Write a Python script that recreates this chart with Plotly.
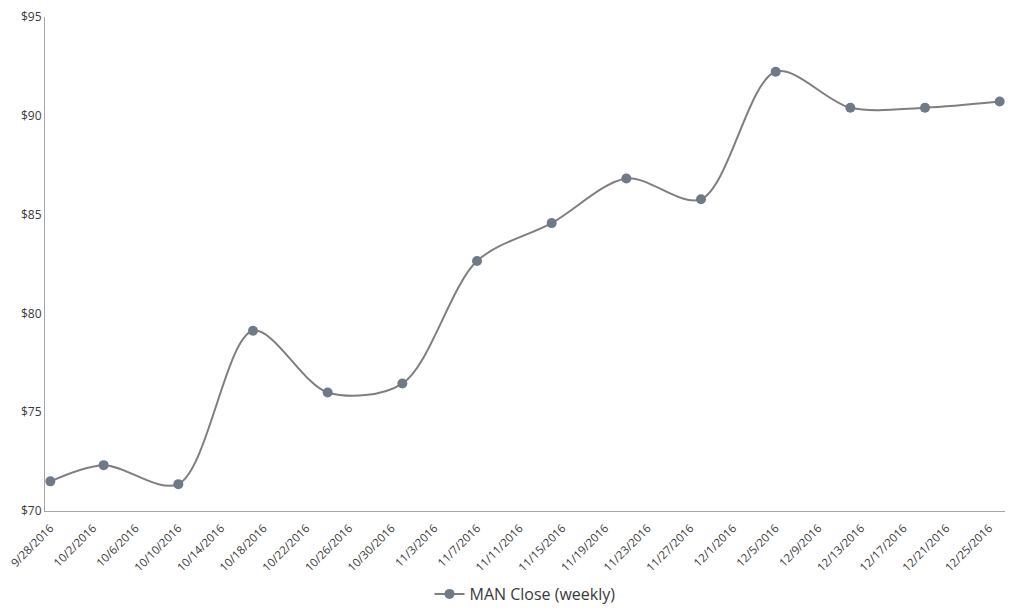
import plotly.graph_objects as go
import pandas as pd

dates = ["2016-09-28", "2016-10-03", "2016-10-10", "2016-10-17", "2016-10-24", "2016-10-31",
         "2016-11-07", "2016-11-14", "2016-11-21", "2016-11-28", "2016-12-05", "2016-12-12",
         "2016-12-19", "2016-12-26"]
close = [71.5, 72.32, 71.36, 79.12, 76.0, 76.45, 82.65, 84.57, 86.83, 85.78, 92.23, 90.41, 90.41, 90.72]
series_name = "MAN Close (weekly)"

tick_dates = pd.date_range("2016-09-28", "2016-12-25", freq="4D")
tick_text = [f"{d.month}/{d.day}/{d.year}" for d in tick_dates]
y_ticks = [70, 75, 80, 85, 90, 95]
y_text = [f"${v}" for v in y_ticks]

x_vals = [pd.Timestamp(d) + pd.Timedelta(hours=12) for d in dates]
tick_vals = [d + pd.Timedelta(hours=12) for d in tick_dates]

fig = go.Figure()
fig.add_trace(go.Scatter(
    x=x_vals, y=close, name=series_name, mode="lines+markers",
    line=dict(color="#7f7f7f", width=2, shape="spline", smoothing=0.9),
    marker=dict(color="#6e7a88", size=10),
))

fig.update_layout(
    width=1008, height=600,
    margin=dict(l=37, r=11, t=9, b=97, autoexpand=False),
    paper_bgcolor="white", plot_bgcolor="white",
    font=dict(family="Open Sans, Noto Sans, sans-serif", color="#3a3a3a", size=11),
    showlegend=True,
    legend=dict(orientation="h", x=0.5, xanchor="center", y=-0.168, yanchor="middle",
                font=dict(size=16, color="#3a3a3a")),
    xaxis=dict(
        type="date", range=["2016-09-28", "2016-12-27"], automargin=False,
        tickmode="array", tickvals=tick_vals, ticktext=tick_text, tickangle=-45,
        ticklabeloverflow="allow", ticklabelstandoff=5,
        showgrid=False, zeroline=False, showline=True, linecolor="#a6a6a6", linewidth=1,
        ticks="", tickfont=dict(size=11.5),
    ),
    yaxis=dict(
        range=[70, 95], tickmode="array", tickvals=y_ticks, ticktext=y_text, automargin=False,
        ticklabeloverflow="allow",
        showgrid=False, zeroline=False, showline=True, linecolor="#a6a6a6", linewidth=1,
        ticks="", tickfont=dict(size=12),
    ),
)

fig.write_html("out.html")
